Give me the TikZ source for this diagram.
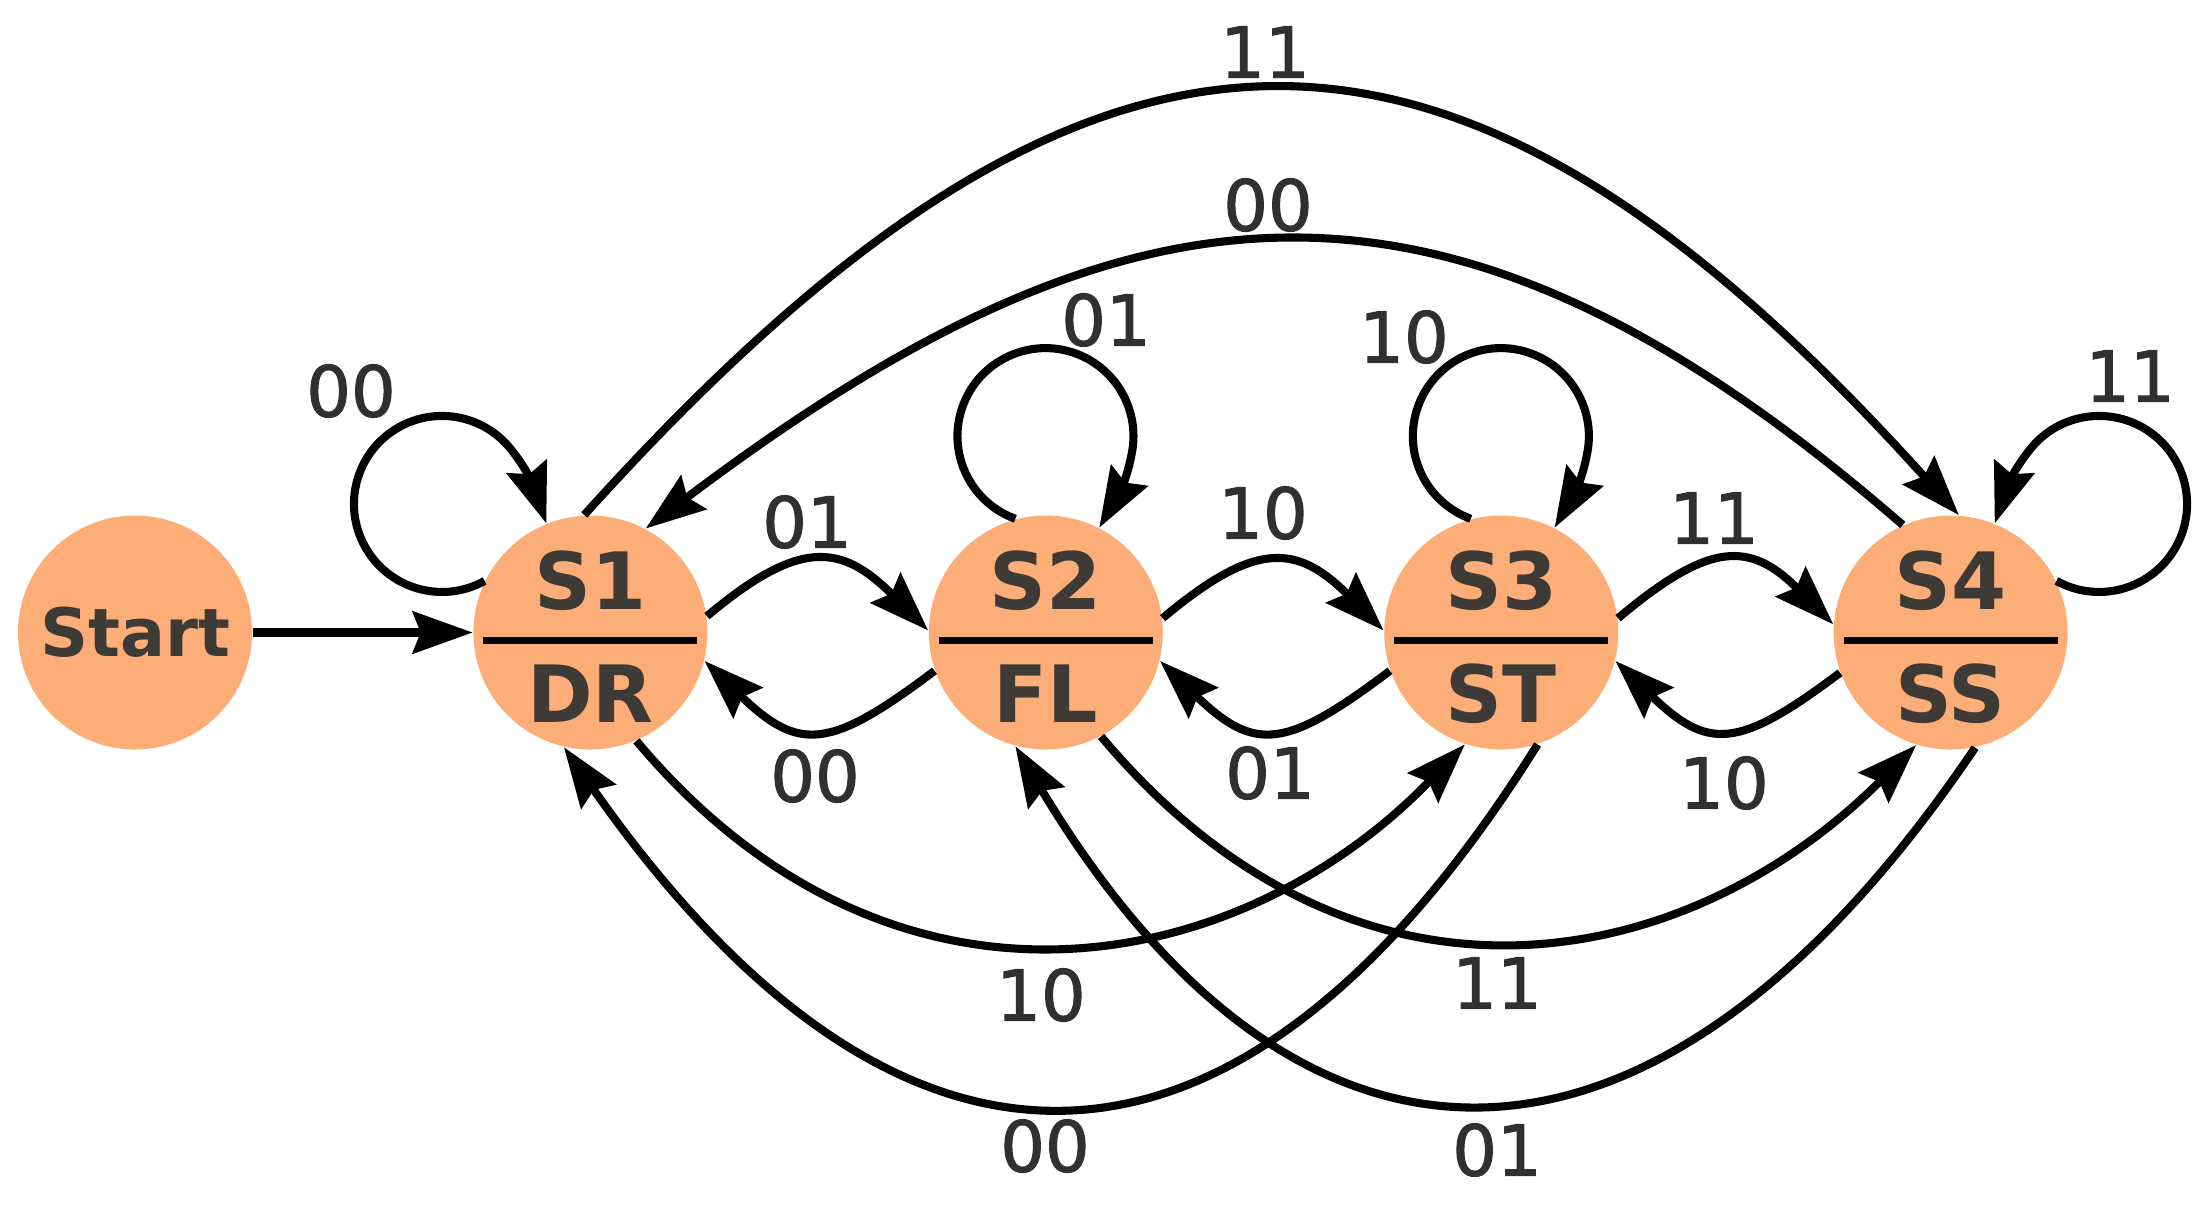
\documentclass[tikz,border=0pt]{standalone}
\usepackage{fontspec}
\setmainfont{DejaVu Sans}
\newfontfamily\labelfont{DejaVu Sans}[FakeBold=1.5]
\usepackage{xcolor}
\usepackage{tikz}
\usetikzlibrary{arrows.meta,positioning,calc}
\definecolor{peach}{RGB}{253,174,120}
\definecolor{inkgray}{RGB}{62,58,54}
\definecolor{labelgray}{RGB}{48,48,48}
\newcommand{\statetext}[2]{%
  \makebox[0pt]{\raisebox{2.35mm}{#1}}\makebox[0pt]{\raisebox{-9mm}{#2}}}
\tikzset{
  startstate/.style={circle, fill=peach, minimum size=23.4mm, inner sep=0pt,
    text=inkgray, font=\bfseries\fontsize{19}{23}\selectfont},
  statecircle/.style={circle, fill=peach, minimum size=23.4mm, inner sep=0pt,
    text height=0pt, text depth=0pt, text=inkgray,
    font=\bfseries\fontsize{22.5}{27}\selectfont},
  divider/.style={line width=2pt, black},
  flow/.style={-{Stealth[length=6mm,width=4.2mm,inset=0.8mm]}, line width=2.3pt, black},
  edgelabel/.style={text=labelgray, inner sep=0pt, font=\labelfont\fontsize{20}{24}\selectfont}
}

\begin{document}
\begin{tikzpicture}[node distance=2.2cm]
\useasboundingbox (0,0) rectangle (22.12,12.08);

\node[startstate] (start) at (1.35,5.755) {Start};
\node[statecircle, right=of start] (S1) {\statetext{S1}{DR}};
\node[statecircle, right=of S1] (S2) {\statetext{S2}{FL}};
\node[statecircle, right=of S2] (S3) {\statetext{S3}{ST}};
\node[statecircle, right=2.14cm of S3] (S4) {\statetext{S4}{SS}};

\draw[divider] ([shift={(-1.07,-0.08)}]S1.center) -- ([shift={(1.07,-0.08)}]S1.center);
\draw[divider] ([shift={(-1.07,-0.08)}]S2.center) -- ([shift={(1.07,-0.08)}]S2.center);
\draw[divider] ([shift={(-1.07,-0.08)}]S3.center) -- ([shift={(1.07,-0.08)}]S3.center);
\draw[divider] ([shift={(-1.07,-0.08)}]S4.center) -- ([shift={(1.07,-0.08)}]S4.center);

\draw[flow] (start) -- (S1);

% self loops
\draw[flow] (S1.154) arc[start angle=299, end angle=39, radius=0.88]
  to[out=-51,in=109] (S1.112);
\draw[flow] (S2.105) arc[start angle=250, end angle=-10, radius=0.88]
  to[out=-100,in=60] (S2.63);
\draw[flow] (S3.105) arc[start angle=250, end angle=-10, radius=0.88]
  to[out=-100,in=60] (S3.63);
\draw[flow] (S4.26) arc[start angle=-119, end angle=141, radius=0.88]
  to[out=231,in=71] (S4.68);

% neighbours
\draw[flow] (S1.8) to[out=40,in=135,looseness=1.41] (S2.179);
\draw[flow] (S2.7) to[out=40,in=135,looseness=1.41] (S3.179);
\draw[flow] (S3.7) to[out=40,in=135,looseness=1.41] (S4.176);
\draw[flow] (S2.199) to[out=217,in=-44,looseness=1.46] (S1.-14);
\draw[flow] (S3.199) to[out=217,in=-44,looseness=1.46] (S2.-14);
\draw[flow] (S4.200) to[out=217,in=-44,looseness=1.46] (S3.-14);

% long arcs
\draw[flow] (S1.93) to[out=48,in=132,looseness=1.42] (S4.86);
\draw[flow] (S4.114) to[out=139,in=37,looseness=1.23] (S1.62);
\draw[flow] (S1.-67) to[out=-50,in=226,out looseness=1.24,in looseness=0.99] (S3.-108);
\draw[flow] (S2.-62) to[out=-50,in=225,out looseness=1.26,in looseness=1] (S4.-107);
\draw[flow] (S3.-72) to[out=238,in=-55,looseness=1.51] (S1.-103);
\draw[flow] (S4.-78) to[out=236,in=-59,looseness=1.5] (S2.-105);

% labels
\node[edgelabel] (top11) at (12.65,11.56) {11};
\node[edgelabel] (top00) at (12.68,10.03) {00};
\node[edgelabel] (loop1) at (3.51,8.17) {00};
\node[edgelabel] (loop2) at (11.06,8.88) {01};
\node[edgelabel] (loop3) at (14.04,8.71) {10};
\node[edgelabel] (loop4) at (21.30,8.32) {11};
\node[edgelabel] (f12) at (8.07,6.86) {01};
\node[edgelabel] (f23) at (12.63,6.95) {10};
\node[edgelabel] (f34) at (17.14,6.90) {11};
\node[edgelabel] (b21) at (8.15,4.32) {00};
\node[edgelabel] (b32) at (12.70,4.35) {01};
\node[edgelabel] (b43) at (17.24,4.25) {10};
\node[edgelabel] (low13) at (10.41,2.13) {10};
\node[edgelabel] (low24) at (14.97,2.25) {11};
\node[edgelabel] (low31) at (10.45,0.62) {00};
\node[edgelabel] (low42) at (14.97,0.58) {01};
\end{tikzpicture}
\end{document}
